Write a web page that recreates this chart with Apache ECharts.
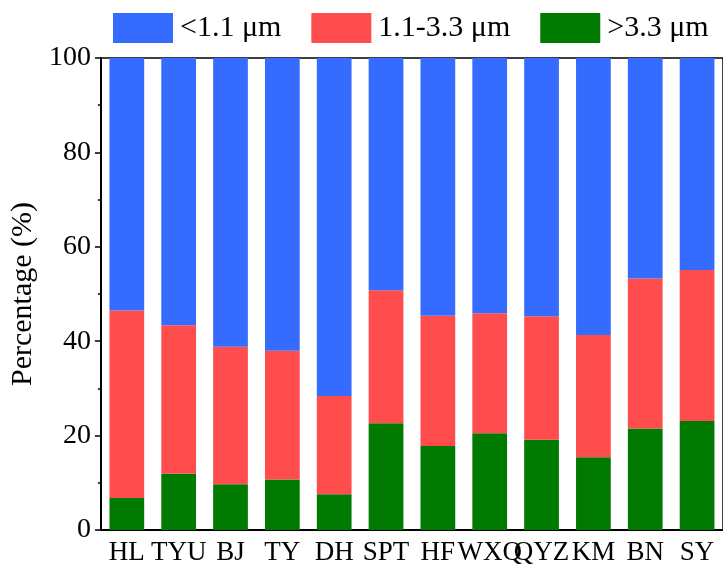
<!DOCTYPE html>
<html>
<head>
<meta charset="utf-8">
<script src="https://cdn.jsdelivr.net/npm/echarts@6/dist/echarts.min.js"></script>
<style>
  html, body { margin: 0; padding: 0; background: #fff; }
  #chart { width: 723px; height: 566px; }
</style>
</head>
<body>
<div id="chart"></div>
<script>
// 站点
const sites = ["HL", "TYU", "BJ", "TY", "DH", "SPT", "HF", "WXQ", "QYZ", "KM", "BN", "SY"];
// >3.3 μm
const coarse = [6.8, 11.9, 9.7, 10.7, 7.6, 22.6, 17.8, 20.5, 19.1, 15.4, 21.5, 23.1];
// 1.1-3.3 μm
const middle = [39.7, 31.5, 29.1, 27.3, 20.8, 28.2, 27.6, 25.4, 26.2, 25.9, 31.8, 32.0];
// <1.1 μm
const fine = [53.5, 56.6, 61.2, 62.0, 71.6, 49.2, 54.6, 54.1, 54.7, 58.7, 46.7, 44.9];
const yTicks = [0, 20, 40, 60, 80, 100];

const font = "'Liberation Serif', 'Times New Roman', serif";
const chart = echarts.init(document.getElementById("chart"));

const option = {
  animation: false,
  legend: {
    top: 8,
    left: 108,
    icon: "rect",
    itemWidth: 60,
    itemHeight: 30,
    itemGap: 30,
    data: ["<1.1 μm", "1.1-3.3 μm", ">3.3 μm"],
    textStyle: { fontFamily: font, fontSize: 30, color: "#000", padding: [0, 0, 0, 2] },
  },
  grid: {
    left: 93,
    top: 58,
    width: 631,
    height: 472,
    show: true,
    borderColor: "#000",
    borderWidth: 1.5,
  },
  xAxis: [
    {
      type: "category",
      data: sites,
      axisLine: { lineStyle: { color: "#000", width: 2 } },
      axisTick: { alignWithLabel: true, length: 6, lineStyle: { color: "#000", width: 1.5 } },
      axisLabel: { interval: 0, fontFamily: font, fontSize: 27, color: "#000", margin: 9 },
    },
    {
      // 分类边界处的短刻度
      type: "category",
      data: sites,
      position: "bottom",
      axisLine: { show: false },
      axisTick: { length: 3, lineStyle: { color: "#000", width: 1.5 } },
      axisLabel: { show: false },
    },
  ],
  yAxis: {
    type: "value",
    min: yTicks[0],
    max: yTicks[yTicks.length - 1],
    interval: 20,
    name: "Percentage (%)",
    nameLocation: "middle",
    nameGap: 54,
    nameTextStyle: { fontFamily: font, fontSize: 30, color: "#000" },
    axisLine: { show: true, lineStyle: { color: "#000", width: 2 } },
    axisTick: { show: true, length: 6, lineStyle: { color: "#000", width: 1.5 } },
    minorTick: { show: true, splitNumber: 2, length: 3, lineStyle: { color: "#000", width: 1.5 } },
    splitLine: { show: false },
    axisLabel: { fontFamily: font, fontSize: 28, color: "#000", margin: 10 },
  },
  series: [
    {
      name: ">3.3 μm",
      type: "bar",
      stack: "total",
      barCategoryGap: "33%",
      data: coarse,
      itemStyle: { color: "#007A00" },
    },
    {
      name: "1.1-3.3 μm",
      type: "bar",
      stack: "total",
      data: middle,
      itemStyle: { color: "#FF4D4D" },
    },
    {
      name: "<1.1 μm",
      type: "bar",
      stack: "total",
      data: fine,
      itemStyle: { color: "#356CFF" },
    },
  ],
};
chart.setOption(option);
</script>
</body>
</html>
